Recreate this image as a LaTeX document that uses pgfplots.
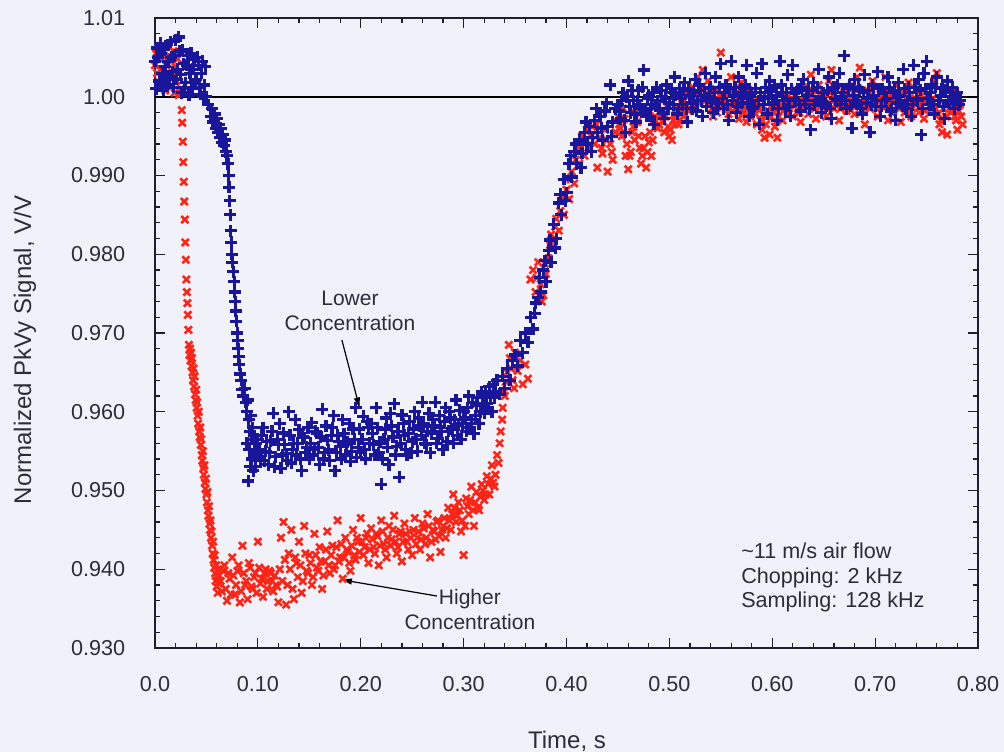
\documentclass[border=0pt]{standalone}
\usepackage{pgfplots}
\pgfplotsset{compat=1.18}
\usepackage{fontspec}
\setmainfont{Liberation Sans}
\usetikzlibrary{arrows.meta}

\definecolor{bgcol}{RGB}{241,241,249}
\definecolor{txtcol}{RGB}{45,45,55}
\definecolor{axcol}{RGB}{30,30,45}
\definecolor{lowblue}{RGB}{26,22,156}
\definecolor{highred}{RGB}{255,36,22}

\begin{document}
\begin{tikzpicture}
% page background (plot box spans 411.5pt x 315pt from the origin)
\fill[bgcol] (-77.5pt,-52pt) rectangle (424.5pt,324pt);

\begin{axis}[
  name=ax, at={(0,0)}, anchor=south west,
  scale only axis, width=411.5pt, height=315pt,
  xmin=0, xmax=0.8, ymin=0.93, ymax=1.01,
  clip=false,
  axis line style={axcol, line width=0.9pt},
  xtick={0,0.1,0.2,0.3,0.4,0.5,0.6,0.7,0.8},
  xticklabels={0.0,0.10,0.20,0.30,0.40,0.50,0.60,0.70,0.80},
  ytick={0.93,0.94,0.95,0.96,0.97,0.98,0.99,1.00,1.01},
  yticklabels={0.930,0.940,0.950,0.960,0.970,0.980,0.990,1.00,1.01},
  minor x tick num=4, minor y tick num=4,
  tick align=inside,
  major tick length=5pt, minor tick length=2.6pt,
  every tick/.style={axcol, line width=0.6pt},
  tick label style={font=\fontsize{10.8}{12}\selectfont, text=txtcol},
  xticklabel style={yshift=-10.5pt},
  yticklabel style={xshift=-11.4pt},
]

% Higher concentration
\addplot[only marks, mark=x, mark size=2.5pt, highred, mark options={line width=1.3pt}] coordinates {
(0.000,1.0040)(0.001,1.0055)(0.002,1.0030)(0.003,1.0062)(0.004,1.0018)(0.005,1.0048)(0.006,1.0035)(0.007,1.0060)(0.008,1.0022)(0.009,1.0050)
(0.010,1.0008)(0.011,1.0040)(0.012,1.0065)(0.013,1.0028)(0.014,1.0052)(0.015,1.0012)(0.016,1.0045)(0.017,1.0030)(0.018,1.0058)(0.019,1.0005)
(0.020,1.0038)(0.021,1.0020)(0.022,1.0048)(0.023,1.0002)(0.024,1.0032)(0.025,1.0010)
(0.0260,0.9983)(0.0265,0.9967)(0.0270,0.9943)(0.0275,0.9917)(0.0280,0.9892)(0.0285,0.9867)(0.0290,0.9844)(0.0295,0.9815)(0.0300,0.9793)
(0.0305,0.9768)(0.0310,0.9752)(0.0315,0.9738)(0.0320,0.9723)(0.0325,0.9704)
(0.0330,0.9685)(0.0335,0.9672)(0.0340,0.9680)(0.0345,0.9665)(0.0350,0.9675)(0.0355,0.9658)(0.0360,0.9668)(0.0365,0.9650)(0.0370,0.9640)
(0.0375,0.9655)(0.0380,0.9632)(0.0385,0.9645)(0.0390,0.9622)(0.0395,0.9615)(0.0400,0.9628)(0.0405,0.9605)(0.0410,0.9612)(0.0415,0.9595)
(0.0420,0.9585)(0.0425,0.9600)(0.0430,0.9575)(0.0435,0.9568)(0.0440,0.9580)(0.0445,0.9558)(0.0450,0.9565)(0.0455,0.9545)(0.0460,0.9538)
(0.0465,0.9550)(0.0470,0.9528)(0.0475,0.9520)(0.0480,0.9532)(0.0485,0.9510)(0.0490,0.9502)(0.0495,0.9515)(0.0500,0.9495)(0.0505,0.9485)
(0.0510,0.9498)(0.0515,0.9475)(0.0520,0.9468)(0.0525,0.9480)(0.0530,0.9458)(0.0535,0.9450)(0.0540,0.9462)(0.0545,0.9440)(0.0550,0.9448)
(0.0555,0.9430)(0.0560,0.9420)(0.0565,0.9435)(0.0570,0.9412)(0.0575,0.9402)(0.0580,0.9418)(0.0585,0.9395)(0.0590,0.9385)(0.0595,0.9405)
(0.0600,0.9378)(0.0605,0.9392)(0.0610,0.9370)(0.0615,0.9400)(0.0620,0.9382)
(0.0625,0.9392)(0.0650,0.9372)(0.0675,0.9405)(0.0700,0.9360)(0.0725,0.9388)(0.0750,0.9415)(0.0775,0.9368)(0.0800,0.9398)(0.0825,0.9358)
(0.0850,0.9430)(0.0875,0.9380)(0.0900,0.9362)(0.0925,0.9402)(0.0950,0.9375)(0.0975,0.9395)(0.1000,0.9435)(0.1025,0.9382)(0.1050,0.9365)
(0.1075,0.9400)(0.1100,0.9385)(0.1125,0.9395)(0.1150,0.9372)(0.1175,0.9380)(0.1200,0.9358)(0.1225,0.9440)(0.1250,0.9460)(0.1275,0.9355)
(0.1300,0.9420)(0.1325,0.9450)(0.1350,0.9362)(0.1375,0.9408)(0.1400,0.9435)(0.1425,0.9370)(0.1450,0.9455)(0.1475,0.9398)(0.1500,0.9418)
(0.1525,0.9380)(0.1550,0.9445)(0.1575,0.9402)(0.1600,0.9428)(0.1625,0.9375)(0.1650,0.9410)(0.1675,0.9448)(0.1700,0.9395)(0.1725,0.9430)
(0.1750,0.9405)(0.1775,0.9462)(0.1800,0.9415)(0.1825,0.9388)(0.1850,0.9440)(0.1875,0.9422)(0.1900,0.9398)(0.1925,0.9450)(0.1950,0.9412)
(0.1975,0.9435)(0.2000,0.9465)(0.2025,0.9418)(0.2050,0.9440)(0.2075,0.9408)(0.2100,0.9452)(0.2125,0.9428)(0.2150,0.9445)(0.2175,0.9405)
(0.2200,0.9462)(0.2225,0.9432)(0.2250,0.9415)(0.2275,0.9455)(0.2300,0.9438)(0.2325,0.9468)(0.2350,0.9420)(0.2375,0.9445)(0.2400,0.9410)
(0.2425,0.9458)(0.2450,0.9435)(0.2475,0.9448)(0.2500,0.9418)(0.2525,0.9465)(0.2550,0.9440)(0.2575,0.9425)(0.2600,0.9458)(0.2625,0.9432)
(0.2650,0.9470)(0.2675,0.9415)(0.2700,0.9450)(0.2725,0.9438)(0.2750,0.9462)(0.2775,0.9422)(0.2800,0.9455)(0.2825,0.9440)(0.2850,0.9478)
(0.2875,0.9450)(0.2900,0.9495)(0.2925,0.9460)(0.2950,0.9485)(0.2975,0.9448)(0.3000,0.9418)(0.3025,0.9490)(0.3050,0.9470)(0.3075,0.9505)
(0.3100,0.9455)(0.3125,0.9498)(0.3150,0.9475)(0.3175,0.9508)(0.3200,0.9488)(0.3225,0.9518)(0.3250,0.9495)(0.3275,0.9532)(0.3300,0.9505)
(0.06375,0.9385)(0.06625,0.9398)(0.06875,0.9375)(0.07125,0.9395)(0.07375,0.9368)(0.07625,0.9392)(0.07875,0.9380)(0.08125,0.9405)(0.08375,0.9372)(0.08625,0.9395)
(0.08875,0.9385)(0.09125,0.9408)(0.09375,0.9378)(0.09625,0.9390)(0.09875,0.9370)(0.10125,0.9402)(0.10375,0.9388)(0.10625,0.9395)(0.10875,0.9375)(0.11125,0.9398)
(0.11375,0.9385)(0.11625,0.9392)(0.11875,0.9378)(0.12125,0.9400)(0.12375,0.9385)(0.12625,0.9412)(0.12875,0.9380)(0.13125,0.9400)(0.13375,0.9375)(0.13625,0.9415)
(0.13875,0.9390)(0.14125,0.9405)(0.14375,0.9385)(0.14625,0.9420)(0.14875,0.9395)(0.15125,0.9408)(0.15375,0.9390)(0.15625,0.9418)(0.15875,0.9398)(0.16125,0.9410)
(0.16375,0.9392)(0.16625,0.9425)(0.16875,0.9405)(0.17125,0.9418)(0.17375,0.9400)(0.17625,0.9428)(0.17875,0.9410)(0.18125,0.9432)(0.18375,0.9415)(0.18625,0.9425)
(0.18875,0.9408)(0.19125,0.9430)(0.19375,0.9418)(0.19625,0.9440)(0.19875,0.9422)(0.20125,0.9435)(0.20375,0.9428)(0.20625,0.9445)(0.20875,0.9425)(0.21125,0.9438)
(0.21375,0.9420)(0.21625,0.9442)(0.21875,0.9430)(0.22125,0.9448)(0.22375,0.9425)(0.22625,0.9440)(0.22875,0.9430)(0.23125,0.9450)(0.23375,0.9435)(0.23625,0.9428)
(0.23875,0.9448)(0.24125,0.9435)(0.24375,0.9445)(0.24625,0.9425)(0.24875,0.9440)(0.25125,0.9450)(0.25375,0.9432)(0.25625,0.9448)(0.25875,0.9438)(0.26125,0.9452)
(0.26375,0.9440)(0.26625,0.9455)(0.26875,0.9435)(0.27125,0.9448)(0.27375,0.9460)(0.27625,0.9442)(0.27875,0.9450)(0.28125,0.9465)(0.28375,0.9452)(0.28625,0.9462)
(0.28875,0.9470)(0.29125,0.9478)(0.29375,0.9468)(0.29625,0.9475)(0.29875,0.9462)(0.30125,0.9455)(0.30375,0.9480)(0.30625,0.9488)(0.30875,0.9475)(0.31125,0.9485)
(0.31375,0.9478)(0.31625,0.9492)(0.31875,0.9500)(0.32125,0.9495)(0.32375,0.9508)(0.32625,0.9515)(0.32875,0.9510)
(0.3310,0.9520)(0.3325,0.9545)(0.3340,0.9535)(0.3350,0.9560)(0.3360,0.9575)(0.3375,0.9590)(0.3380,0.9605)(0.3390,0.9625)(0.3400,0.9620)
(0.3410,0.9638)(0.3425,0.9650)(0.3440,0.9685)(0.3450,0.9668)(0.3460,0.9655)(0.3475,0.9640)(0.3490,0.9630)(0.3500,0.9675)(0.3525,0.9652)
(0.3550,0.9665)(0.3575,0.9635)(0.3600,0.9660)(0.3625,0.9642)(0.3650,0.9768)(0.3675,0.9780)(0.3700,0.9752)(0.3725,0.9790)(0.3750,0.9762)
(0.3775,0.9748)(0.3800,0.9775)(0.3825,0.9795)(0.3850,0.9825)(0.3875,0.9810)(0.3900,0.9845)(0.3925,0.9830)(0.3950,0.9868)(0.3975,0.9850)
(0.4000,0.9882)(0.4025,0.9870)(0.4050,0.9905)(0.4075,0.9890)(0.4100,0.9935)(0.4125,0.9915)(0.4150,0.9950)(0.4175,0.9925)(0.4200,0.9958)
(0.4225,0.9935)(0.4250,0.9962)(0.4275,0.9940)(0.4300,0.9910)(0.4325,0.9948)(0.4350,0.9928)(0.4375,0.9958)(0.4400,0.9905)(0.4425,0.9940)
(0.4450,0.9920)(0.4475,0.9955)
(0.3710,0.9770)(0.3760,0.9740)(0.3790,0.9788)(0.3840,0.9812)(0.3890,0.9835)(0.3940,0.9855)(0.3990,0.9875)(0.4040,0.9895)(0.4090,0.9920)(0.4140,0.9935)
(0.4190,0.9945)(0.4240,0.9950)(0.4290,0.9965)(0.4340,0.9935)(0.4390,0.9945)(0.4440,0.9930)
(0.4500,0.9975)(0.4525,0.9960)(0.4550,0.9985)(0.4575,0.9925)(0.4600,0.9908)(0.4625,0.9930)(0.4650,0.9962)(0.4675,0.9980)(0.4700,0.9950)
(0.4725,0.9915)(0.4750,0.9935)(0.4775,0.9910)(0.4800,0.9942)(0.4825,0.9925)(0.4850,0.9970)(0.4875,0.9990)(0.4900,0.9965)(0.4925,0.9978)
(0.4950,0.9955)(0.4975,0.9988)(0.5000,0.9950)(0.5025,0.9945)(0.5050,0.9965)(0.5075,0.9985)(0.5100,0.9970)(0.5125,0.9998)(0.5150,0.9978)
(0.5175,1.0005)(0.5200,0.9985)(0.5225,1.0012)(0.5250,0.9990)(0.5275,1.0025)(0.5300,1.0005)(0.5325,1.0034)(0.5350,0.9995)(0.5375,1.0020)
(0.5400,1.0002)(0.5425,0.9975)(0.5450,1.0010)(0.5475,0.9990)(0.5500,1.0056)(0.5525,0.9998)
(0.5550,1.0010)(0.5575,0.9978)(0.5600,1.0025)(0.5625,0.9990)(0.5650,1.0005)(0.5675,0.9972)(0.5700,1.0018)(0.5725,0.9985)(0.5750,0.9968)
(0.5775,1.0008)(0.5800,0.9980)(0.5825,0.9995)(0.5850,0.9965)(0.5875,0.9985)(0.5900,0.9958)(0.5925,0.9948)(0.5950,0.9975)(0.5975,0.9952)
(0.6000,0.9990)(0.6025,0.9962)(0.6050,0.9948)(0.6075,0.9985)(0.6100,0.9970)(0.6125,1.0002)(0.6150,0.9980)(0.6175,0.9995)(0.6200,0.9975)
(0.6225,1.0008)(0.6250,0.9985)(0.6275,0.9968)(0.6300,1.0012)(0.6325,0.9990)(0.6350,0.9978)(0.6375,1.0028)(0.6400,0.9995)(0.6425,0.9972)
(0.6450,1.0015)(0.6475,0.9988)(0.6500,1.0005)(0.6525,0.9975)(0.6550,1.0020)(0.6575,1.0034)(0.6600,0.9985)(0.6625,1.0008)(0.6650,0.9970)
(0.6675,0.9995)(0.6700,1.0012)(0.6725,0.9982)(0.6750,0.9998)(0.6775,1.0015)(0.6800,0.9978)(0.6825,1.0025)(0.6850,1.0037)(0.6875,0.9990)
(0.6900,0.9965)(0.6925,1.0008)(0.6950,0.9985)(0.6975,1.0020)(0.7000,0.9995)(0.7025,0.9975)(0.7050,1.0010)(0.7075,0.9988)(0.7100,1.0025)
(0.7125,0.9970)(0.7150,1.0002)(0.7175,0.9982)(0.7200,1.0015)(0.7225,0.9992)(0.7250,0.9968)(0.7275,1.0005)(0.7300,0.9985)(0.7325,1.0018)
(0.7350,0.9975)(0.7375,0.9995)(0.7400,1.0010)(0.7425,0.9980)(0.7450,1.0002)(0.7475,0.9972)(0.7500,0.9995)(0.7525,1.0012)(0.7550,0.9985)
(0.7575,1.0020)(0.7600,1.0030)(0.7625,0.9965)(0.7650,0.9955)(0.7675,0.9990)(0.7700,0.9952)(0.7725,0.9985)(0.7750,1.0005)(0.7775,0.9975)
(0.7800,0.9958)(0.7825,0.9990)(0.7850,0.9965)
(0.45125,0.9965)(0.45375,0.9950)(0.45625,0.9972)(0.45875,0.9940)(0.46125,0.9925)(0.46375,0.9955)(0.46625,0.9945)(0.46875,0.9968)(0.47125,0.9935)(0.47375,0.9925)
(0.47625,0.9950)(0.47875,0.9930)(0.48125,0.9955)(0.48375,0.9945)(0.48625,0.9975)(0.48875,0.9960)(0.49125,0.9982)(0.49375,0.9968)(0.49625,0.9975)(0.49875,0.9962)
(0.50125,0.9958)(0.50375,0.9970)(0.50625,0.9978)(0.50875,0.9965)(0.51125,0.9985)(0.51375,0.9975)(0.51625,0.9990)(0.51875,0.9982)(0.52125,0.9995)(0.52375,0.9985)
(0.52625,1.0002)(0.52875,0.9992)(0.53125,1.0010)(0.53375,0.9998)(0.53625,1.0005)(0.53875,0.9990)(0.54125,0.9985)(0.54375,0.9995)(0.54625,0.9980)(0.54875,1.0002)
(0.55125,0.9990)(0.55375,0.9998)(0.55625,0.9985)(0.55875,1.0005)(0.56125,0.9982)(0.56375,0.9995)(0.56625,0.9988)(0.56875,0.9998)(0.57125,0.9980)(0.57375,0.9992)
(0.57625,0.9985)(0.57875,0.9975)(0.58125,0.9990)(0.58375,0.9978)(0.58625,0.9985)(0.58875,0.9970)(0.59125,0.9978)(0.59375,0.9965)(0.59625,0.9982)(0.59875,0.9975)
(0.60125,0.9980)(0.60375,0.9968)(0.60625,0.9975)(0.60875,0.9990)(0.61125,0.9982)(0.61375,0.9992)(0.61625,0.9985)(0.61875,0.9998)(0.62125,0.9988)(0.62375,0.9995)
(0.62625,0.9980)(0.62875,0.9992)(0.63125,1.0002)(0.63375,0.9988)(0.63625,0.9995)(0.63875,1.0008)(0.64125,0.9985)(0.64375,0.9995)(0.64625,1.0002)(0.64875,0.9990)
(0.65125,0.9998)(0.65375,0.9985)(0.65625,1.0005)(0.65875,0.9995)(0.66125,0.9990)(0.66375,0.9998)(0.66625,0.9985)(0.66875,1.0002)(0.67125,0.9992)(0.67375,0.9998)
(0.67625,0.9988)(0.67875,1.0005)(0.68125,0.9995)(0.68375,1.0010)(0.68625,0.9992)(0.68875,0.9982)(0.69125,0.9995)(0.69375,0.9988)(0.69625,1.0002)(0.69875,0.9992)
(0.70125,0.9985)(0.70375,0.9998)(0.70625,0.9990)(0.70875,1.0005)(0.71125,0.9988)(0.71375,0.9995)(0.71625,0.9980)(0.71875,0.9998)(0.72125,1.0002)(0.72375,0.9985)
(0.72625,0.9992)(0.72875,0.9980)(0.73125,1.0000)(0.73375,0.9990)(0.73625,0.9985)(0.73875,0.9998)(0.74125,0.9992)(0.74375,0.9988)(0.74625,0.9995)(0.74875,0.9982)
(0.75125,1.0000)(0.75375,0.9992)(0.75625,0.9998)(0.75875,0.9985)(0.76125,0.9978)(0.76375,0.9970)(0.76625,0.9985)(0.76875,0.9975)(0.77125,0.9992)(0.77375,0.9980)
(0.77625,0.9990)(0.77875,0.9970)(0.78125,0.9982)(0.78375,0.9975)
};

% Lower concentration
\addplot[only marks, mark=+, mark size=3pt, lowblue, mark options={line width=1.6pt}] coordinates {
(0.000,1.0045)(0.001,1.0010)(0.002,1.0062)(0.003,1.0050)(0.004,1.0020)(0.005,1.0068)(0.006,1.0055)(0.007,1.0030)(0.008,1.0008)(0.009,1.0060)
(0.010,1.0038)(0.011,1.0015)(0.012,1.0066)(0.013,1.0045)(0.014,1.0025)(0.015,1.0070)(0.016,1.0050)(0.017,1.0032)(0.018,1.0012)(0.019,1.0052)
(0.020,1.0072)(0.021,1.0022)(0.022,1.0035)(0.023,1.0076)(0.024,1.0058)(0.025,1.0028)(0.026,1.0005)(0.027,1.0060)(0.028,1.0042)(0.029,1.0012)
(0.030,1.0018)(0.031,1.0040)(0.032,1.0052)(0.033,1.0002)(0.034,1.0030)(0.035,1.0055)(0.036,1.0010)(0.037,1.0035)(0.038,1.0048)(0.039,1.0020)
(0.040,1.0022)(0.041,1.0050)(0.042,1.0040)(0.043,1.0012)(0.044,1.0003)(0.045,1.0030)(0.046,1.0045)(0.047,1.0000)(0.048,1.0015)(0.049,1.0038)
(0.050,1.0000)(0.052,0.9990)(0.054,0.9975)(0.055,0.9985)(0.056,0.9968)(0.058,0.9978)(0.059,0.9960)(0.060,0.9972)(0.061,0.9955)(0.062,0.9965)
(0.063,0.9948)(0.064,0.9960)(0.065,0.9942)(0.066,0.9952)(0.067,0.9938)(0.068,0.9945)(0.069,0.9930)(0.070,0.9925)(0.071,0.9915)(0.0715,0.9900)
(0.072,0.9885)(0.0725,0.9868)(0.073,0.9850)(0.0735,0.9830)(0.074,0.9815)(0.0745,0.9800)(0.075,0.9790)(0.076,0.9778)(0.077,0.9765)(0.0775,0.9752)
(0.078,0.9740)(0.0785,0.9728)(0.079,0.9715)(0.080,0.9700)(0.0805,0.9690)(0.081,0.9680)(0.0815,0.9670)(0.082,0.9660)(0.083,0.9648)(0.084,0.9640)
(0.085,0.9628)(0.086,0.9620)(0.087,0.9630)(0.088,0.9612)(0.089,0.9600)(0.0895,0.9560)(0.090,0.9615)(0.0905,0.9512)(0.091,0.9590)(0.092,0.9575)
(0.093,0.9595)(0.094,0.9540)(0.095,0.9580)(0.096,0.9545)(0.097,0.9565)(0.098,0.9530)
(0.0915,0.9552)(0.0925,0.9530)(0.0935,0.9565)(0.0955,0.9525)(0.0965,0.9550)(0.0975,0.9538)(0.0985,0.9560)(0.0995,0.9545)
(0.1000,0.9565)(0.1025,0.9540)(0.1050,0.9580)(0.1075,0.9550)(0.1100,0.9533)(0.1125,0.9563)(0.1150,0.9598)(0.1175,0.9543)(0.1200,0.9558)
(0.1225,0.9528)(0.1250,0.9573)(0.1275,0.9547)(0.1300,0.9600)(0.1325,0.9535)(0.1350,0.9560)(0.1375,0.9545)(0.1400,0.9577)(0.1425,0.9525)
(0.1450,0.9567)(0.1475,0.9555)(0.1500,0.9540)(0.1525,0.9586)(0.1550,0.9552)(0.1575,0.9573)(0.1600,0.9533)(0.1625,0.9603)(0.1650,0.9548)
(0.1675,0.9564)(0.1700,0.9538)(0.1725,0.9580)(0.1750,0.9525)(0.1775,0.9570)(0.1800,0.9556)(0.1825,0.9590)(0.1850,0.9545)(0.1875,0.9562)
(0.1900,0.9537)(0.1925,0.9578)(0.1950,0.9605)(0.1975,0.9555)(0.2000,0.9548)(0.2025,0.9594)(0.2050,0.9540)(0.2075,0.9580)(0.2100,0.9585)
(0.2125,0.9558)(0.2150,0.9605)(0.2175,0.9548)(0.2200,0.9508)(0.2225,0.9565)(0.2250,0.9592)(0.2275,0.9533)(0.2300,0.9582)(0.2325,0.9610)
(0.2350,0.9556)(0.2375,0.9517)(0.2400,0.9596)(0.2425,0.9570)(0.2450,0.9545)(0.2475,0.9588)(0.2500,0.9562)(0.2525,0.9600)(0.2550,0.9550)
(0.2575,0.9582)(0.2600,0.9612)(0.2625,0.9560)(0.2650,0.9575)(0.2675,0.9548)(0.2700,0.9590)(0.2725,0.9612)(0.2750,0.9566)(0.2775,0.9580)
(0.2800,0.9552)(0.2825,0.9605)(0.2850,0.9575)(0.2875,0.9592)(0.2900,0.9560)(0.2925,0.9615)(0.2950,0.9583)(0.2975,0.9565)(0.3000,0.9600)
(0.3025,0.9575)(0.3050,0.9620)(0.3075,0.9590)(0.3100,0.9572)(0.3125,0.9608)(0.3150,0.9585)(0.3175,0.9625)(0.3200,0.9598)(0.3225,0.9610)
(0.10125,0.9552)(0.10375,0.9570)(0.10625,0.9538)(0.10875,0.9562)(0.11125,0.9548)(0.11375,0.9575)(0.11625,0.9530)(0.11875,0.9565)(0.12125,0.9585)(0.12375,0.9545)
(0.12625,0.9558)(0.12875,0.9538)(0.13125,0.9570)(0.13375,0.9552)(0.13625,0.9590)(0.13875,0.9560)(0.14125,0.9540)(0.14375,0.9568)(0.14625,0.9548)(0.14875,0.9580)
(0.15125,0.9560)(0.15375,0.9545)(0.15625,0.9575)(0.15875,0.9555)(0.16125,0.9568)(0.16375,0.9540)(0.16625,0.9582)(0.16875,0.9552)(0.17125,0.9570)(0.17375,0.9595)
(0.17625,0.9548)(0.17875,0.9562)(0.18125,0.9540)(0.18375,0.9572)(0.18625,0.9558)(0.18875,0.9585)(0.19125,0.9550)(0.19375,0.9565)(0.19625,0.9542)(0.19875,0.9578)
(0.20125,0.9565)(0.20375,0.9552)(0.20625,0.9588)(0.20875,0.9560)(0.21125,0.9572)(0.21375,0.9545)(0.21625,0.9580)(0.21875,0.9562)(0.22125,0.9540)(0.22375,0.9578)
(0.22625,0.9555)(0.22875,0.9598)(0.23125,0.9568)(0.23375,0.9545)(0.23625,0.9575)(0.23875,0.9560)(0.24125,0.9585)(0.24375,0.9552)(0.24625,0.9572)(0.24875,0.9548)
(0.25125,0.9578)(0.25375,0.9565)(0.25625,0.9592)(0.25875,0.9570)(0.26125,0.9585)(0.26375,0.9558)(0.26625,0.9598)(0.26875,0.9572)(0.27125,0.9582)(0.27375,0.9560)
(0.27625,0.9595)(0.27875,0.9575)(0.28125,0.9588)(0.28375,0.9562)(0.28625,0.9600)(0.28875,0.9578)(0.29125,0.9590)(0.29375,0.9570)(0.29625,0.9602)(0.29875,0.9585)
(0.30125,0.9592)(0.30375,0.9605)(0.30625,0.9580)(0.30875,0.9612)(0.31125,0.9595)(0.31375,0.9618)(0.31625,0.9600)(0.31875,0.9610)(0.32125,0.9622)(0.32375,0.9605)
(0.32625,0.9620)(0.32875,0.9635)(0.33125,0.9625)
(0.3250,0.9632)(0.3275,0.9600)(0.3300,0.9618)(0.3325,0.9640)(0.3350,0.9622)(0.3375,0.9645)(0.3400,0.9630)(0.3425,0.9655)(0.3450,0.9640)
(0.3475,0.9665)(0.3500,0.9672)(0.3525,0.9658)(0.3550,0.9690)(0.3575,0.9675)(0.3600,0.9700)(0.3625,0.9688)(0.3650,0.9720)(0.3675,0.9705)
(0.3690,0.9725)(0.3700,0.9738)(0.3725,0.9745)(0.3740,0.9770)(0.3750,0.9752)(0.3775,0.9780)(0.3790,0.9792)(0.3800,0.9765)(0.3825,0.9805)
(0.3840,0.9818)(0.3850,0.9790)(0.3875,0.9838)(0.3890,0.9808)(0.3900,0.9820)(0.3925,0.9865)(0.3940,0.9876)(0.3950,0.9850)(0.3975,0.9895)
(0.3990,0.9868)(0.4000,0.9878)(0.4025,0.9915)(0.4040,0.9925)(0.4050,0.9898)(0.4075,0.9930)(0.4090,0.9940)(0.4100,0.9915)(0.4125,0.9945)
(0.4140,0.9910)(0.4150,0.9928)(0.4175,0.9955)(0.4190,0.9968)(0.4200,0.9940)(0.4225,0.9962)(0.4240,0.9930)(0.4250,0.9948)(0.4275,0.9970)
(0.4290,0.9985)(0.4300,0.9955)(0.4325,0.9975)(0.4340,0.9960)(0.4350,0.9945)(0.4375,0.9982)(0.4390,0.9992)(0.4400,0.9962)(0.4425,1.0015)
(0.4440,0.9950)(0.4450,0.9968)(0.4475,0.9985)
(0.4500,0.9990)(0.4525,0.9972)(0.4550,1.0005)(0.4575,0.9955)(0.4600,1.0020)(0.4625,0.9980)(0.4650,0.9995)(0.4675,0.9968)(0.4700,1.0008)
(0.4725,0.9985)(0.4750,1.0034)(0.4775,0.9975)(0.4800,1.0002)(0.4825,0.9990)(0.4850,0.9965)(0.4875,1.0012)(0.4900,0.9985)(0.4925,1.0000)
(0.4950,0.9972)(0.4975,1.0015)(0.5000,0.9992)(0.5025,1.0005)(0.5050,1.0025)(0.5075,0.9978)(0.5100,1.0010)(0.5125,0.9990)(0.5150,1.0018)
(0.5175,0.9968)(0.5200,1.0002)(0.5225,0.9985)(0.5250,1.0022)(0.5275,0.9995)(0.5300,1.0008)(0.5325,0.9975)(0.5350,1.0030)(0.5375,0.9998)
(0.5400,1.0012)(0.5425,0.9980)(0.5450,1.0025)(0.5475,0.9992)(0.5500,1.0042)
(0.5525,0.9985)(0.5550,1.0015)(0.5575,0.9970)(0.5600,1.0045)(0.5625,1.0002)(0.5650,0.9980)(0.5675,1.0025)(0.5700,0.9992)(0.5725,1.0010)
(0.5750,1.0040)(0.5775,0.9975)(0.5800,1.0005)(0.5825,0.9988)(0.5850,1.0030)(0.5875,0.9965)(0.5900,1.0042)(0.5925,1.0000)(0.5950,0.9978)
(0.5975,1.0020)(0.6000,0.9990)(0.6025,1.0012)(0.6050,0.9970)(0.6075,1.0045)(0.6100,1.0005)(0.6125,0.9985)(0.6150,1.0028)(0.6175,0.9975)
(0.6200,1.0040)(0.6225,0.9995)(0.6250,1.0010)(0.6275,0.9982)(0.6300,1.0022)(0.6325,0.9990)(0.6350,1.0008)(0.6375,0.9958)(0.6400,1.0018)
(0.6425,0.9995)(0.6450,1.0035)(0.6475,0.9980)(0.6500,1.0005)(0.6525,0.9988)(0.6550,1.0025)(0.6575,0.9972)(0.6600,1.0012)(0.6625,0.9995)
(0.6650,1.0030)(0.6675,1.0000)(0.6700,1.0052)(0.6725,0.9985)(0.6750,1.0015)(0.6775,0.9960)(0.6800,1.0022)(0.6825,0.9992)(0.6850,1.0008)
(0.6875,0.9978)(0.6900,1.0028)(0.6925,0.9998)(0.6950,0.9955)(0.6975,1.0015)(0.7000,0.9988)(0.7025,1.0032)(0.7050,0.9975)(0.7075,1.0010)
(0.7100,0.9995)(0.7125,1.0025)(0.7150,0.9982)(0.7175,1.0005)(0.7200,0.9970)(0.7225,1.0018)(0.7250,0.9992)(0.7275,1.0035)(0.7300,0.9985)
(0.7325,1.0012)(0.7350,0.9975)(0.7375,1.0040)(0.7400,0.9998)(0.7425,1.0022)(0.7450,0.9952)(0.7475,1.0030)(0.7500,1.0045)(0.7525,0.9990)
(0.7550,1.0015)(0.7575,0.9978)(0.7600,1.0025)(0.7625,0.9995)(0.7650,1.0010)(0.7675,0.9972)(0.7700,1.0020)(0.7725,0.9992)(0.7750,1.0012)
(0.7775,0.9985)(0.7800,1.0005)(0.7825,0.9995)
(0.45125,0.9982)(0.45375,0.9995)(0.45625,0.9970)(0.45875,1.0000)(0.46125,0.9988)(0.46375,1.0008)(0.46625,0.9978)(0.46875,0.9995)(0.47125,0.9990)(0.47375,1.0012)
(0.47625,0.9985)(0.47875,0.9998)(0.48125,0.9975)(0.48375,1.0005)(0.48625,0.9988)(0.48875,0.9995)(0.49125,1.0008)(0.49375,0.9980)(0.49625,0.9998)(0.49875,0.9985)
(0.50125,1.0010)(0.50375,0.9990)(0.50625,1.0002)(0.50875,0.9985)(0.51125,0.9998)(0.51375,1.0008)(0.51625,0.9985)(0.51875,1.0010)(0.52125,0.9992)(0.52375,1.0005)
(0.52625,0.9982)(0.52875,1.0015)(0.53125,0.9995)(0.53375,1.0002)(0.53625,0.9988)(0.53875,1.0010)(0.54125,0.9995)(0.54375,1.0005)(0.54625,0.9985)(0.54875,1.0012)
(0.55125,0.9998)(0.55375,1.0005)(0.55625,0.9990)(0.55875,1.0010)(0.56125,0.9995)(0.56375,1.0012)(0.56625,0.9988)(0.56875,1.0005)(0.57125,0.9998)(0.57375,1.0015)
(0.57625,0.9992)(0.57875,1.0002)(0.58125,0.9985)(0.58375,1.0010)(0.58625,0.9995)(0.58875,1.0005)(0.59125,0.9990)(0.59375,1.0012)(0.59625,0.9998)(0.59875,1.0008)
(0.60125,0.9992)(0.60375,1.0002)(0.60625,0.9985)(0.60875,1.0015)(0.61125,0.9995)(0.61375,1.0005)(0.61625,0.9988)(0.61875,1.0010)(0.62125,0.9998)(0.62375,1.0006)
(0.62625,0.9990)(0.62875,1.0012)(0.63125,0.9995)(0.63375,1.0002)(0.63625,0.9985)(0.63875,1.0008)(0.64125,0.9990)(0.64375,1.0012)(0.64625,0.9995)(0.64875,1.0005)
(0.65125,0.9992)(0.65375,1.0008)(0.65625,0.9985)(0.65875,1.0010)(0.66125,0.9998)(0.66375,1.0015)(0.66625,0.9990)(0.66875,1.0005)(0.67125,0.9995)(0.67375,1.0010)
(0.67625,0.9988)(0.67875,1.0002)(0.68125,0.9995)(0.68375,1.0012)(0.68625,0.9985)(0.68875,1.0005)(0.69125,0.9992)(0.69375,1.0008)(0.69625,0.9990)(0.69875,1.0002)
(0.70125,0.9995)(0.70375,1.0010)(0.70625,0.9988)(0.70875,1.0005)(0.71125,0.9998)(0.71375,1.0012)(0.71625,0.9985)(0.71875,1.0008)(0.72125,0.9992)(0.72375,1.0002)
(0.72625,0.9988)(0.72875,1.0010)(0.73125,0.9995)(0.73375,1.0005)(0.73625,0.9990)(0.73875,1.0012)(0.74125,0.9995)(0.74375,1.0008)(0.74625,0.9985)(0.74875,1.0010)
(0.75125,0.9998)(0.75375,1.0005)(0.75625,0.9990)(0.75875,1.0012)(0.76125,0.9995)(0.76375,1.0002)(0.76625,0.9988)(0.76875,1.0008)(0.77125,0.9995)(0.77375,1.0005)
(0.77625,0.9992)(0.77875,1.0002)(0.78125,0.9990)
};

% reference level at 1.00
\addplot[black, line width=0.8pt, no marks] coordinates {(0,1.00)(0.8,1.00)};

% annotations
\node[align=center, font=\fontsize{10.5}{12.8}\selectfont, text=txtcol] at (axis cs:0.1895,0.9728) {Lower\\Concentration};
\draw[black, line width=0.6pt, -{Latex[length=6pt,width=3.2pt]}] (axis cs:0.1817,0.9691) -- (axis cs:0.1992,0.9603);
\node[align=center, font=\fontsize{10.5}{12.8}\selectfont, text=txtcol] at (axis cs:0.3061,0.9349) {Higher\\Concentration};
\draw[black, line width=0.6pt, -{Latex[length=6pt,width=3.2pt]}] (axis cs:0.2741,0.9366) -- (axis cs:0.1798,0.9387);
\node[align=left, anchor=north west, inner sep=0pt, font=\fontsize{10.8}{12.3}\selectfont, text=txtcol] at (axis cs:0.5695,0.9434)
  {\textasciitilde 11 m/s air flow\\Chopping: 2 kHz\\Sampling: 128 kHz};
\end{axis}

% axis titles
\node[anchor=base, font=\fontsize{12}{14}\selectfont, text=txtcol] at (206pt,-50pt) {Time, s};
\node[anchor=base, rotate=90, font=\fontsize{12}{14}\selectfont, text=txtcol] at (-62pt,149pt) {Normalized PkVy Signal, V/V};

\pgfresetboundingbox
\path (-77.5pt,-52pt) rectangle (424.5pt,324pt);
\end{tikzpicture}
\end{document}
